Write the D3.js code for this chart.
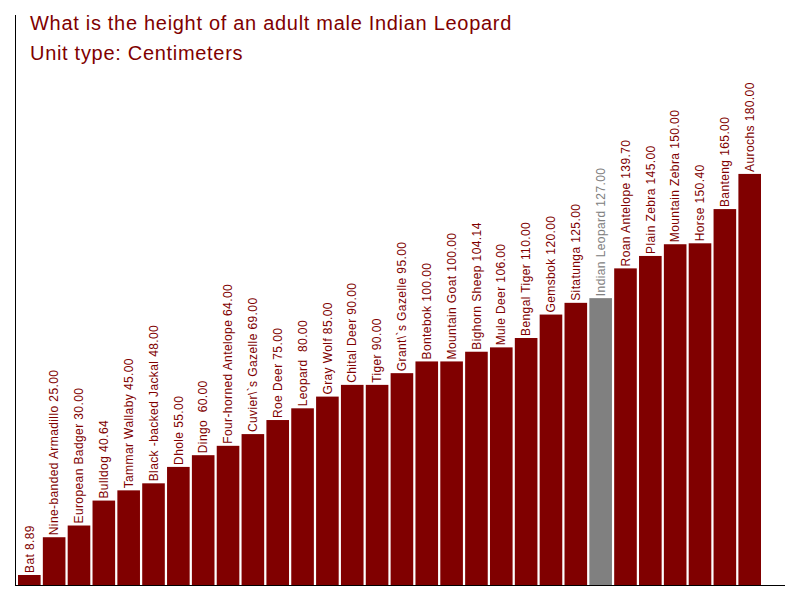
<!DOCTYPE html>
<html>
<head>
<meta charset="utf-8">
<script src="https://cdn.jsdelivr.net/npm/d3@7"></script>
<style>
  body { margin: 0; background: #fff; }
  svg { display: block; font-family: Arial, "Liberation Sans", sans-serif; }
</style>
</head>
<body>
<svg id="chart" width="800" height="600"></svg>
<script>
const categories = ["Bat", "Nine-banded Armadillo", "European Badger", "Bulldog", "Tammar Wallaby",
  "Black -backed Jackal", "Dhole", "Dingo ", "Four-horned Antelope", "Cuvier\\`s Gazelle",
  "Roe Deer", "Leopard ", "Gray Wolf", "Chital Deer", "Tiger", "Grant\\`s Gazelle", "Bontebok",
  "Mountain Goat", "Bighorn Sheep", "Mule Deer", "Bengal Tiger", "Gemsbok", "Sitatunga",
  "Indian Leopard", "Roan Antelope", "Plain Zebra", "Mountain Zebra", "Horse", "Banteng", "Aurochs"];
const values = [8.89, 25.00, 30.00, 40.64, 45.00, 48.00, 55.00, 60.00, 64.00, 69.00,
  75.00, 80.00, 85.00, 90.00, 90.00, 95.00, 100.00, 100.00, 104.14, 106.00,
  110.00, 120.00, 125.00, 127.00, 139.70, 145.00, 150.00, 150.40, 165.00, 180.00];
const highlight = "Indian Leopard";
const titleLines = ["What is the height of an adult male Indian Leopard", "Unit type: Centimeters"];

const data = categories.map((c, i) => ({ name: c, value: values[i] }));
const svg = d3.select("#chart");

const x = d3.scaleBand().domain(categories).range([18, 761]).paddingInner(0.09).paddingOuter(0);
const y = d3.scaleLinear().domain([4.62, 247.8]).range([585, 15]);

const barColor = "#800000", hiColor = "#808080";

svg.selectAll("rect.bar").data(data).join("rect")
  .attr("class", "bar")
  .attr("x", d => x(d.name))
  .attr("y", d => y(d.value))
  .attr("width", x.bandwidth())
  .attr("height", d => y(y.domain()[0]) - y(d.value))
  .attr("fill", d => d.name === highlight ? hiColor : barColor);

svg.selectAll("text.lbl").data(data).join("text")
  .attr("class", "lbl")
  .attr("transform", d => `translate(${x(d.name) + x.bandwidth() / 2},${y(d.value) - 2}) rotate(-90)`)
  .attr("dy", "0.35em")
  .attr("text-anchor", "start")
  .attr("font-size", 12)
  .attr("letter-spacing", "0.4px")
  .attr("fill", d => d.name === highlight ? hiColor : barColor)
  .style("white-space", "pre")
  .text(d => d.name + " " + d.value.toFixed(2));

// axes lines
svg.append("line").attr("x1", 15.5).attr("x2", 15.5).attr("y1", 15).attr("y2", 585.5)
  .attr("stroke", "#000").attr("stroke-width", 1);
svg.append("line").attr("x1", 15).attr("x2", 785).attr("y1", 585.5).attr("y2", 585.5)
  .attr("stroke", "#000").attr("stroke-width", 1);

svg.selectAll("text.title").data(titleLines).join("text")
  .attr("class", "title")
  .attr("x", 30)
  .attr("y", (d, i) => 29.5 + i * 30)
  .attr("font-size", 20)
  .attr("letter-spacing", "0.7px")
  .attr("fill", "#800000")
  .text(d => d);
</script>
</body>
</html>
